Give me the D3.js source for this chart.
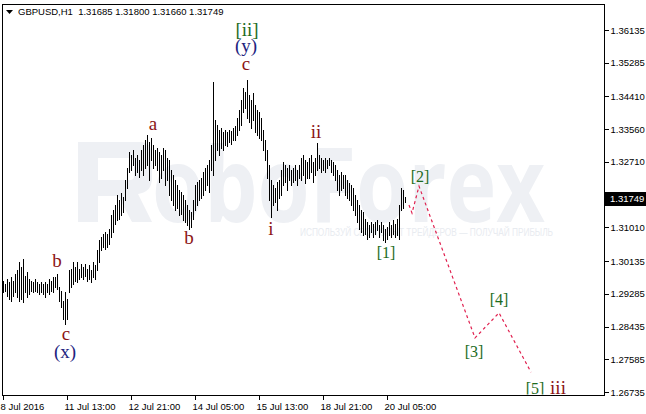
<!DOCTYPE html>
<html><head><meta charset="utf-8">
<script src="https://cdn.jsdelivr.net/npm/d3@7"></script>
<style>body{margin:0;background:#fff}svg{display:block}</style>
</head><body>
<svg id="c" width="646" height="414"></svg>
<script>
// ---------- data ----------
const symbolTitle = "GBPUSD,H1";
const lastOHLC = ["1.31685", "1.31800", "1.31660", "1.31749"];
const lastPrice = 1.31749;
const dateLabels = ["8 Jul 2016", "11 Jul 13:00", "12 Jul 21:00", "14 Jul 05:00", "15 Jul 13:00", "18 Jul 21:00", "20 Jul 05:00"];
const dateLabelBars = [0, 32, 64, 96, 128, 160, 192];
const priceTicks = [1.36135, 1.35285, 1.34410, 1.33560, 1.32710, 1.31860, 1.31010, 1.30135, 1.29285, 1.28435, 1.27585, 1.26735];

const highs = [
1.2963,1.2955,1.2968,1.2958,1.2973,1.2963,1.2979,1.2989,1.3010,1.2999,
1.3020,1.2976,1.2984,1.2968,1.2963,1.2958,1.2966,1.2960,1.2955,1.2958,
1.2953,1.2960,1.2955,1.2966,1.2963,1.2971,1.2973,1.2979,1.2945,1.2937,
1.2911,1.2932,1.2916,1.2989,1.2994,1.3010,1.2999,1.3010,1.2994,1.3005,
1.2999,1.3007,1.2994,1.3002,1.2989,1.3010,1.3002,1.3041,1.3067,1.3077,
1.3083,1.3088,1.3083,1.3098,1.3132,1.3145,1.3158,1.3184,1.3171,1.3189,
1.3181,1.3223,1.3254,1.3296,1.3288,1.3301,1.3280,1.3288,1.3275,1.3301,
1.3314,1.3327,1.3340,1.3322,1.3332,1.3314,1.3301,1.3306,1.3296,1.3288,
1.3306,1.3301,1.3280,1.3275,1.3249,1.3236,1.3223,1.3210,1.3197,1.3192,
1.3184,1.3171,1.3158,1.3145,1.3140,1.3171,1.3210,1.3218,1.3223,1.3228,
1.3244,1.3254,1.3262,1.3275,1.3314,1.3478,1.3379,1.3366,1.3353,1.3358,
1.3348,1.3353,1.3348,1.3353,1.3350,1.3358,1.3363,1.3384,1.3405,1.3431,
1.3462,1.3452,1.3483,1.3444,1.3431,1.3449,1.3418,1.3405,1.3400,1.3384,
1.3353,1.3327,1.3301,1.3262,1.3223,1.3210,1.3202,1.3218,1.3223,1.3249,
1.3270,1.3262,1.3254,1.3262,1.3249,1.3254,1.3262,1.3249,1.3262,1.3280,
1.3288,1.3275,1.3270,1.3280,1.3288,1.3270,1.3280,1.3319,1.3288,1.3280,
1.3275,1.3280,1.3275,1.3280,1.3275,1.3270,1.3262,1.3249,1.3236,1.3244,
1.3236,1.3236,1.3223,1.3215,1.3210,1.3202,1.3184,1.3171,1.3158,1.3145,
1.3140,1.3124,1.3114,1.3106,1.3114,1.3109,1.3114,1.3119,1.3106,1.3114,
1.3106,1.3098,1.3103,1.3114,1.3106,1.3119,1.3109,1.3124,1.3158,1.3202,
1.3197,1.3180];
const lows = [
1.2932,1.2937,1.2924,1.2916,1.2911,1.2924,1.2932,1.2921,1.2911,1.2916,
1.2906,1.2932,1.2921,1.2927,1.2937,1.2932,1.2937,1.2932,1.2929,1.2934,
1.2927,1.2921,1.2932,1.2929,1.2937,1.2934,1.2947,1.2940,1.2911,1.2895,
1.2864,1.2849,1.2864,1.2932,1.2947,1.2953,1.2963,1.2958,1.2968,1.2973,
1.2968,1.2976,1.2963,1.2968,1.2958,1.2973,1.2968,1.2989,1.3010,1.3041,
1.3051,1.3046,1.3051,1.3059,1.3077,1.3088,1.3109,1.3119,1.3124,1.3132,
1.3140,1.3171,1.3202,1.3244,1.3249,1.3262,1.3236,1.3244,1.3233,1.3249,
1.3236,1.3254,1.3262,1.3223,1.3275,1.3254,1.3262,1.3249,1.3218,1.3228,
1.3249,1.3210,1.3223,1.3184,1.3171,1.3158,1.3145,1.3150,1.3132,1.3137,
1.3119,1.3114,1.3106,1.3098,1.3103,1.3124,1.3145,1.3158,1.3171,1.3176,
1.3184,1.3197,1.3210,1.3192,1.3249,1.3236,1.3275,1.3301,1.3288,1.3306,
1.3301,1.3314,1.3311,1.3322,1.3317,1.3327,1.3327,1.3340,1.3353,1.3366,
1.3400,1.3410,1.3384,1.3374,1.3358,1.3379,1.3348,1.3340,1.3332,1.3327,
1.3301,1.3275,1.3228,1.3171,1.3127,1.3158,1.3166,1.3145,1.3176,1.3184,
1.3210,1.3218,1.3197,1.3223,1.3210,1.3218,1.3223,1.3210,1.3228,1.3223,
1.3236,1.3215,1.3228,1.3228,1.3244,1.3218,1.3236,1.3249,1.3254,1.3244,
1.3249,1.3244,1.3254,1.3262,1.3244,1.3236,1.3223,1.3197,1.3184,1.3197,
1.3202,1.3184,1.3176,1.3171,1.3158,1.3145,1.3132,1.3114,1.3098,1.3088,
1.3080,1.3083,1.3072,1.3077,1.3088,1.3077,1.3085,1.3093,1.3077,1.3088,
1.3067,1.3062,1.3072,1.3080,1.3077,1.3083,1.3077,1.3080,1.3072,1.3145,
1.3150,1.3166];

// projected path (bar position, price)
const projBars = [203, 204.5, 208, 236, 248, 264];
const projPrices = [1.3159, 1.3138, 1.3208, 1.2814, 1.2879, 1.2725];

// wave labels
const waveText  = ["[ii]", "(y)", "c", "a", "b", "b", "c", "(x)", "i", "ii", "[1]", "[2]", "[3]", "[4]", "[5]", "iii"];
const waveBar   = [122, 121.5, 121.5, 75, 93, 27, 31.5, 31, 134, 156.5, 191.5, 208.5, 235.5, 248, 266, 277.5];
const wavePrice = [1.3598, 1.3556, 1.3510, 1.3354, 1.3058, 1.2998, 1.2808, 1.2762, 1.3081, 1.3333, 1.3021, 1.3219, 1.2764, 1.2899, 1.2668, 1.2668];
const waveDegree = ["major", "inter", "minor", "minor", "minor", "minor", "minor", "inter", "minor", "minor", "minute", "minute", "minute", "minute", "minute", "minor"];

// ---------- layout ----------
const W = 646, H = 414;
const L = 2, T = 4, R = 604, B = 395;
const svg = d3.select("#c");

const x = d3.scaleLinear().domain([0, 300]).range([3, 603]);
const y = d3.scaleLinear().domain([1.26657, 1.367842]).range([B, 5]);

const degreeStyle = {
  major:  {fill: "#1d6b1d", size: 19},
  inter:  {fill: "#23237e", size: 19},
  minor:  {fill: "#8b1414", size: 19},
  minute: {fill: "#1d6b1d", size: 16}
};

svg.append("rect").attr("width", W).attr("height", H).attr("fill", "#fff");

svg.append("defs").append("clipPath").attr("id", "plot")
  .append("rect").attr("x", L + 0.5).attr("y", T + 0.5).attr("width", R - L - 1).attr("height", B - T - 1);

// watermark
const wm = svg.append("g").attr("fill", "#eef0f4");
wm.append("path")
  .attr("d", "M78,142 H140 Q152,142 152,156 V178 Q152,192 138,194 L152,222 H132 L118,196 H98 V222 H78 Z M98,158 V180 H130 Q134,180 134,176 V162 Q134,158 130,158 Z")
  .attr("fill-rule", "evenodd");
wm.append("text").attr("x", 152).attr("y", 222)
  .attr("font-family", "Open Sans, Liberation Sans, sans-serif").attr("font-weight", 700)
  .attr("font-size", 104).attr("textLength", 393).attr("lengthAdjust", "spacingAndGlyphs")
  .text("oboForex");
wm.append("text").attr("x", 300).attr("y", 236)
  .attr("font-family", "Liberation Sans, sans-serif").attr("font-size", 10)
  .attr("textLength", 253).attr("lengthAdjust", "spacingAndGlyphs")
  .attr("fill", "#e8ebf0").text("ИСПОЛЬЗУЙ СВОЙ ОПЫТ ТРЕЙДЕРОВ — ПОЛУЧАЙ ПРИБЫЛЬ");

const plot = svg.append("g").attr("clip-path", "url(#plot)");

// bars
plot.append("g").selectAll("line").data(highs).join("line")
  .attr("x1", (d, i) => Math.round(x(i)) + 0.5).attr("x2", (d, i) => Math.round(x(i)) + 0.5)
  .attr("y1", d => Math.round(y(d))).attr("y2", (d, i) => Math.round(y(lows[i])) + 1)
  .attr("stroke", "#000").attr("stroke-width", 1).attr("shape-rendering", "crispEdges");

// projection
const proj = projBars.map((b, i) => [b, projPrices[i]]);
plot.append("path").datum(proj)
  .attr("d", d3.line().x(d => x(d[0])).y(d => y(d[1])))
  .attr("fill", "none").attr("stroke", "#e0204f").attr("stroke-width", 1.2)
  .attr("stroke-dasharray", "3,3");

// wave labels
plot.append("g").selectAll("text").data(waveText).join("text")
  .attr("x", (d, i) => x(waveBar[i])).attr("y", (d, i) => y(wavePrice[i]))
  .attr("text-anchor", "middle")
  .attr("font-family", "Liberation Serif, Times New Roman, serif")
  .attr("font-size", (d, i) => degreeStyle[waveDegree[i]].size)
  .attr("fill", (d, i) => degreeStyle[waveDegree[i]].fill)
  .text(d => d);

// frame
svg.append("rect").attr("x", L + 0.5).attr("y", T + 0.5).attr("width", R - L).attr("height", B - T)
  .attr("fill", "none").attr("stroke", "#000").attr("shape-rendering", "crispEdges");

// price axis
const yAxis = svg.append("g").attr("transform", `translate(${R + 0.5},0)`)
  .call(d3.axisRight(y).tickValues(priceTicks).tickFormat(d3.format(".5f")).tickSize(4).tickPadding(2));
yAxis.select(".domain").remove();
yAxis.selectAll("line").attr("stroke", "#000").attr("shape-rendering", "crispEdges");
yAxis.selectAll("text").attr("font-family", "Liberation Sans, sans-serif").attr("font-size", 9.5).attr("fill", "#000");

// time axis
const xAxis = svg.append("g").attr("transform", `translate(0,${B + 0.5})`)
  .call(d3.axisBottom(x).tickValues(dateLabelBars).tickFormat((d, i) => dateLabels[i]).tickSize(4).tickPadding(4));
xAxis.select(".domain").remove();
xAxis.selectAll("line").attr("stroke", "#000").attr("shape-rendering", "crispEdges")
  .attr("transform", "translate(-0.5,0)");
xAxis.selectAll("text").attr("text-anchor", "start").attr("font-family", "Liberation Sans, sans-serif")
  .attr("font-size", 9.5).attr("fill", "#000").attr("dx", -3);

// current price tag
const py = Math.round(y(lastPrice));
svg.append("rect").attr("x", R + 1).attr("y", py - 7).attr("width", W - R - 1).attr("height", 14).attr("fill", "#000");
svg.append("text").attr("x", R + 6).attr("y", py).attr("dy", "0.35em")
  .attr("font-family", "Liberation Sans, sans-serif").attr("font-size", 9.5).attr("fill", "#fff")
  .text(d3.format(".5f")(lastPrice));

// title
svg.append("path").attr("d", "M6,10 L13,10 L9.5,14 Z").attr("fill", "#000");
svg.append("text").attr("x", 18).attr("y", 15)
  .attr("font-family", "Liberation Sans, sans-serif").attr("font-size", 9.5).attr("fill", "#000")
  .attr("xml:space", "preserve")
  .text(symbolTitle + "  " + lastOHLC.join(" "));
</script>
</body></html>
